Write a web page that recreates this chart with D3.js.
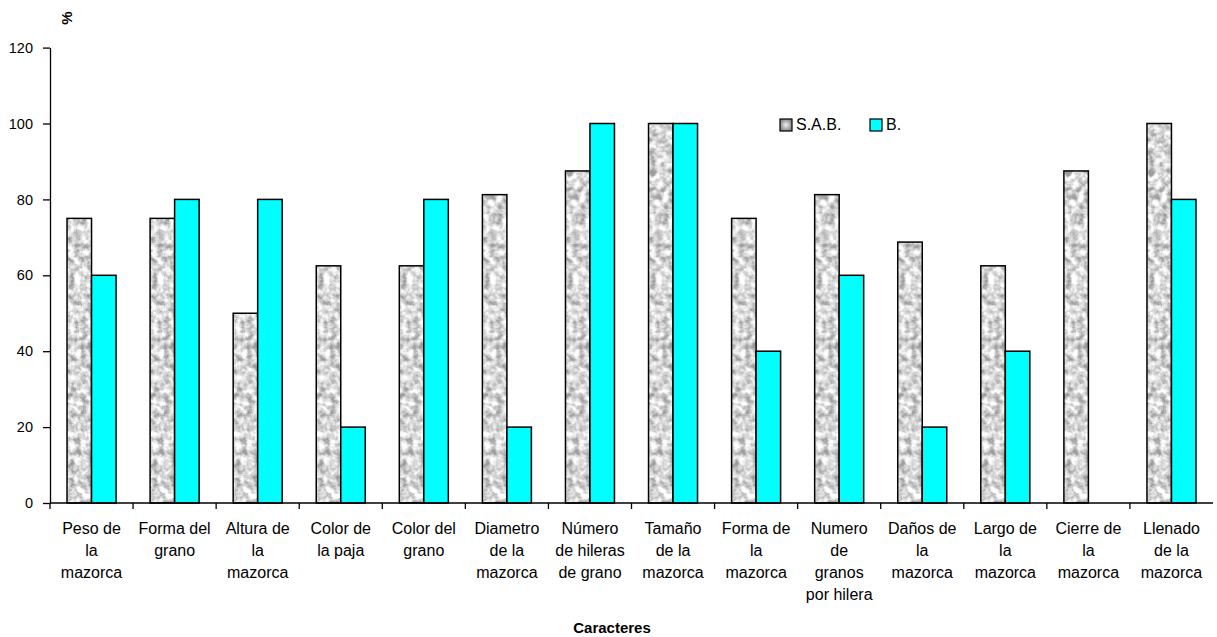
<!DOCTYPE html>
<html>
<head>
<meta charset="utf-8">
<script src="https://cdn.jsdelivr.net/npm/d3@7"></script>
<style>
  html, body { margin: 0; padding: 0; background: #fff; }
  svg { display: block; font-family: "Liberation Sans", Arial, sans-serif; }
</style>
</head>
<body>
<svg id="chart" width="1217" height="637"></svg>
<script>
// Characters evaluated (line breaks as printed under the axis)
const categories = [
  "Peso de\nla\nmazorca",
  "Forma del\ngrano",
  "Altura de\nla\nmazorca",
  "Color de\nla paja",
  "Color del\ngrano",
  "Diametro\nde la\nmazorca",
  "Número\nde hileras\nde grano",
  "Tamaño\nde la\nmazorca",
  "Forma de\nla\nmazorca",
  "Numero\nde\ngranos\npor hilera",
  "Daños de\nla\nmazorca",
  "Largo de\nla\nmazorca",
  "Cierre de\nla\nmazorca",
  "Llenado\nde la\nmazorca"
];

const seriesNames = ["S.A.B.", "B."];

// Percentages per character
const sabValues = [75, 75, 50, 62.5, 62.5, 81.25, 87.5, 100, 75, 81.25, 68.75, 62.5, 87.5, 100];
const bValues   = [60, 80, 80, 20, 80, 20, 100, 100, 40, 60, 20, 40, 0, 80];

const yTicks = [0, 20, 40, 60, 80, 100, 120];

const xAxisTitle = "Caracteres";
const yAxisTitle = "%";

const W = 1217, H = 637;
const svg = d3.select("#chart");
const defs = svg.append("defs");

// Granite-like grey texture for the S.A.B. bars
const filt = defs.append("filter")
  .attr("id", "graniteNoise")
  .attr("filterUnits", "userSpaceOnUse")
  .attr("x", 0).attr("y", 0).attr("width", W).attr("height", H);
filt.append("feTurbulence")
  .attr("type", "fractalNoise")
  .attr("baseFrequency", 0.16)
  .attr("numOctaves", 4)
  .attr("seed", 41)
  .attr("result", "noise");
filt.append("feColorMatrix")
  .attr("in", "noise")
  .attr("type", "matrix")
  .attr("values", "0.33 0.33 0.33 0 0  0.33 0.33 0.33 0 0  0.33 0.33 0.33 0 0  0 0 0 0 1")
  .attr("result", "grey");
// tone curve: clamp the darkest spots to a mid-dark grey
const toneTable = d3.range(0, 21).map(i => {
  const t = i / 20;
  return Math.max(0.34, Math.min(1, 0.7 + 2.6 * (t - 0.5))).toFixed(3);
}).join(" ");
const ct = filt.append("feComponentTransfer").attr("in", "grey").attr("result", "tone");
["feFuncR", "feFuncG", "feFuncB"].forEach(f =>
  ct.append(f).attr("type", "table").attr("tableValues", toneTable));
filt.append("feGaussianBlur").attr("in", "tone").attr("stdDeviation", 0.35);

const pat = defs.append("pattern")
  .attr("id", "granite")
  .attr("patternUnits", "userSpaceOnUse")
  .attr("width", W).attr("height", H);
pat.append("rect")
  .attr("width", W).attr("height", H)
  .attr("fill", "#fff")
  .attr("filter", "url(#graniteNoise)");

// Legend swatch gradient
const grad = defs.append("radialGradient").attr("id", "swatchGrey");
grad.append("stop").attr("offset", "0%").attr("stop-color", "#f0f0f0");
grad.append("stop").attr("offset", "100%").attr("stop-color", "#8a8a8a");

const fills = ["url(#granite)", "#00FFFF"];

// Plot frame
const plot = { left: 50, right: 1213, top: 47.6, bottom: 503 };

const x = d3.scaleBand()
  .domain(d3.range(categories.length))
  .range([plot.left, plot.right])
  .paddingInner(0).paddingOuter(0);

const bw = x.bandwidth();
const xs = d3.scaleBand()
  .domain(seriesNames)
  .range([bw * 0.205, bw * 0.795]);

const y = d3.scaleLinear()
  .domain([0, 120])
  .range([plot.bottom, plot.top]);

// Bars
const rows = categories.map((c, i) => ({
  i,
  values: [
    { name: seriesNames[0], v: sabValues[i], k: 0 },
    { name: seriesNames[1], v: bValues[i], k: 1 }
  ]
}));

const groups = svg.append("g").selectAll("g")
  .data(rows).join("g")
  .attr("transform", d => `translate(${x(d.i)},0)`);

groups.selectAll("rect")
  .data(d => d.values.filter(e => e.v > 0))
  .join("rect")
  .attr("x", e => xs(e.name))
  .attr("y", e => y(e.v))
  .attr("width", xs.bandwidth())
  .attr("height", e => y(0) - y(e.v))
  .attr("fill", e => fills[e.k])
  .attr("stroke", "#000")
  .attr("stroke-width", 1.5);

// Y axis
const yAxis = d3.axisLeft(y)
  .tickValues(yTicks)
  .tickSize(7)
  .tickPadding(10)
  .tickSizeOuter(0);

const gy = svg.append("g")
  .attr("transform", `translate(${plot.left},0)`)
  .call(yAxis);
gy.select(".domain").attr("stroke", "#000").attr("stroke-width", 1.3);
gy.selectAll(".tick line").attr("stroke", "#000").attr("stroke-width", 1.3);
gy.selectAll(".tick text")
  .attr("font-size", 14.5)
  .attr("fill", "#000")
  .attr("font-family", "Liberation Sans, Arial, sans-serif");

// X axis: baseline with ticks at the category boundaries
const boundaries = d3.range(categories.length + 1).map(i => plot.left + i * bw);
const gx = svg.append("g");
gx.append("line")
  .attr("x1", plot.left).attr("x2", plot.right)
  .attr("y1", y(0)).attr("y2", y(0))
  .attr("stroke", "#000").attr("stroke-width", 1.3);
gx.selectAll("line.tk")
  .data(boundaries.slice(0, -1))
  .join("line")
  .attr("class", "tk")
  .attr("x1", d => d).attr("x2", d => d)
  .attr("y1", y(0)).attr("y2", y(0) + 6)
  .attr("stroke", "#000").attr("stroke-width", 1.3);

// Category labels
const labels = svg.append("g")
  .attr("font-size", 16)
  .attr("fill", "#000")
  .attr("text-anchor", "middle");
labels.selectAll("text")
  .data(categories.map((c, i) => ({ c, i })))
  .join("text")
  .attr("transform", d => `translate(${x(d.i) + bw / 2},534)`)
  .each(function (d) {
    d3.select(this).selectAll("tspan")
      .data(d.c.split("\n"))
      .join("tspan")
      .attr("x", 0)
      .attr("y", (s, j) => j * 22)
      .text(s => s);
  });

// Axis titles
svg.append("text")
  .attr("x", 612).attr("y", 633)
  .attr("text-anchor", "middle")
  .attr("font-size", 15)
  .attr("font-weight", "bold")
  .text(xAxisTitle);

svg.append("text")
  .attr("transform", "translate(72,18) rotate(-90)")
  .attr("text-anchor", "middle")
  .attr("font-size", 15)
  .attr("font-weight", "bold")
  .text(yAxisTitle);

// Legend
const legendFills = ["url(#swatchGrey)", "#00FFFF"];
const legendX = [780, 870];
const legend = svg.append("g");
const li = legend.selectAll("g")
  .data(seriesNames)
  .join("g")
  .attr("transform", (d, i) => `translate(${legendX[i]},119)`);
li.append("rect")
  .attr("width", 12).attr("height", 12)
  .attr("fill", (d, i) => legendFills[i])
  .attr("stroke", "#000").attr("stroke-width", 1.2);
li.append("text")
  .attr("x", 16).attr("y", 10.5)
  .attr("font-size", 16)
  .text(d => d);
</script>
</body>
</html>
